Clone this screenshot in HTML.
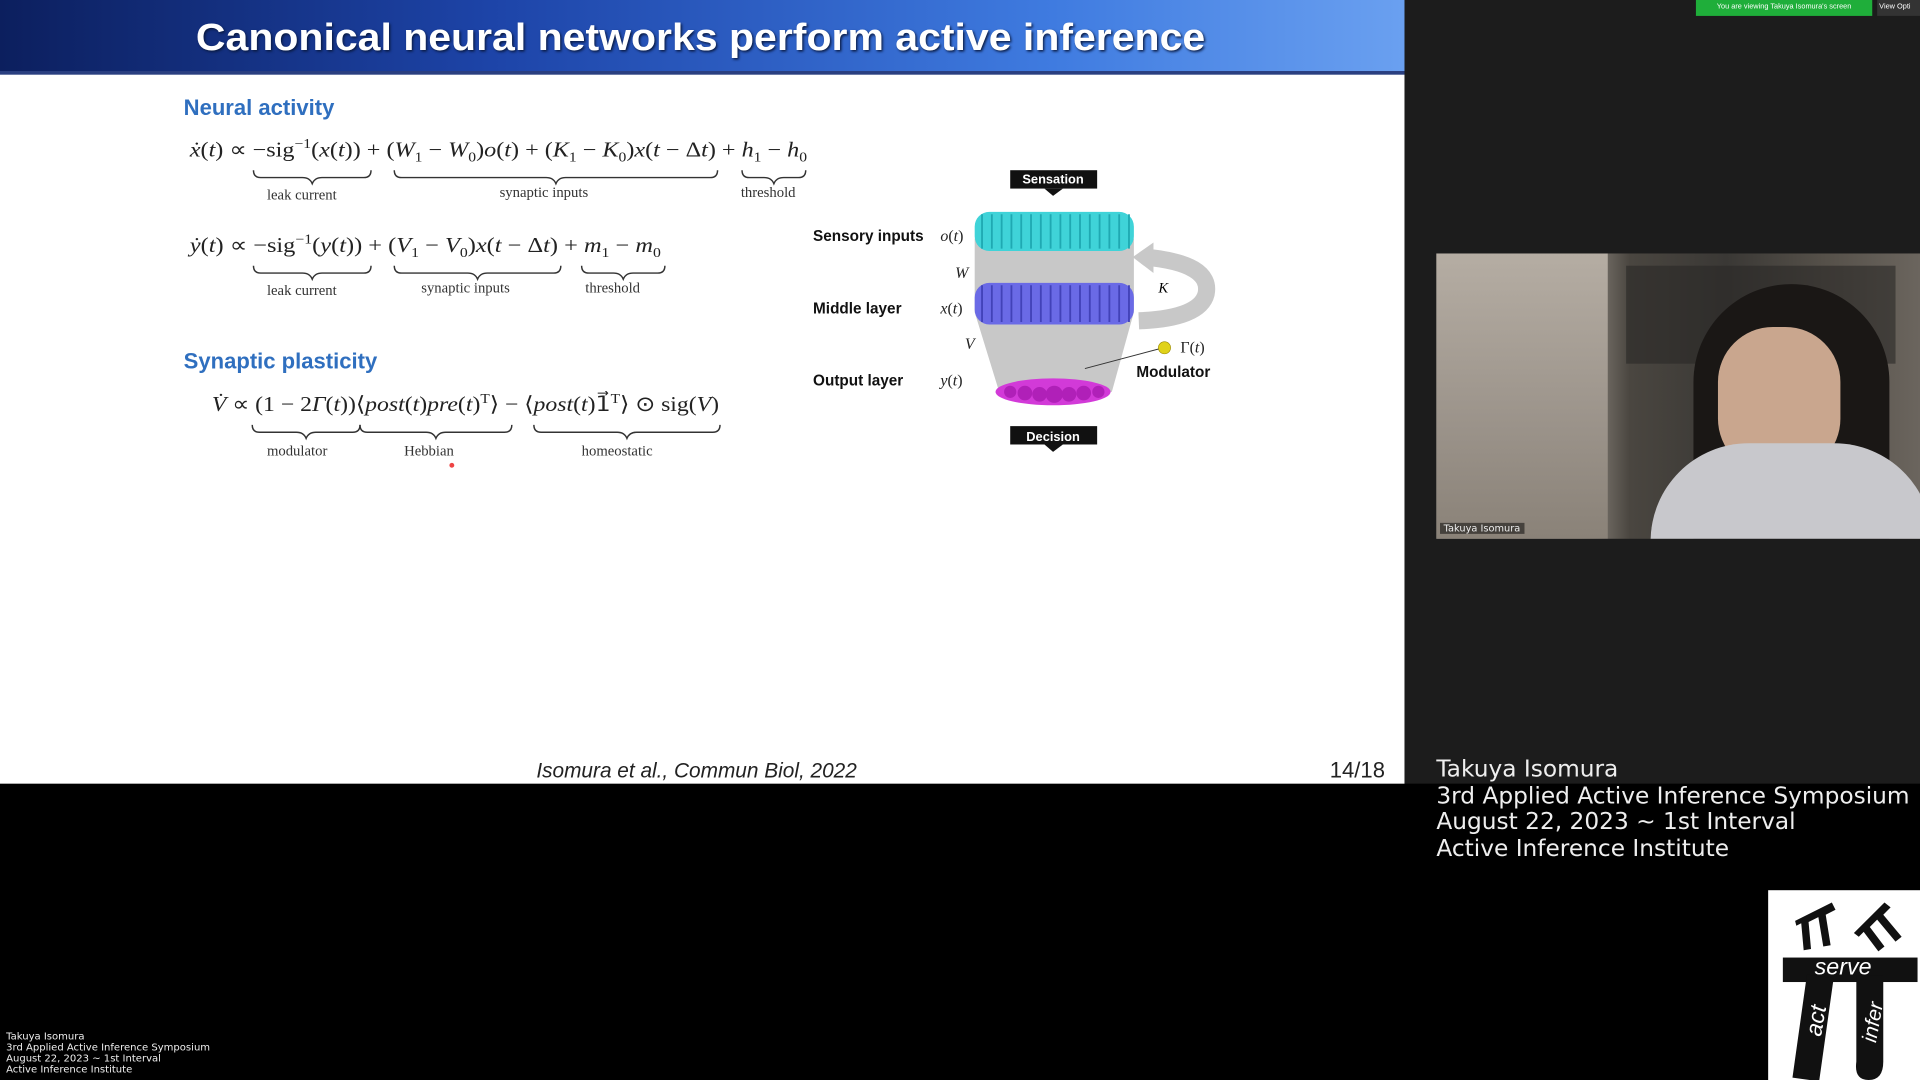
<!DOCTYPE html>
<html><head><meta charset="utf-8"><style>
html,body{margin:0;padding:0;background:#000;width:1920px;height:1080px;overflow:hidden}
#c{position:absolute;left:0;top:0;width:1568px;height:882px;transform:scale(1.22449);transform-origin:0 0;background:#000;font-family:"Liberation Sans",sans-serif}
.a{position:absolute;white-space:nowrap}
.eq{font-family:"Liberation Serif",serif;font-size:17px;color:#222;transform-origin:0 0}
.eq i{font-style:italic}
.lb{font-family:"Liberation Serif",serif;font-size:12px;color:#333}
.h{font-weight:bold;color:#2f6fbf;font-size:18px}
.b{font-weight:bold;font-size:12.5px;color:#111}
.w{color:#eee;font-family:"DejaVu Sans",sans-serif}
</style></head><body><div id="c">
<div class="a" style="left:0;top:0;width:1147px;height:640px;background:#fff"></div>
<div class="a" style="left:0;top:0;width:1147px;height:60px;background:linear-gradient(90deg,#0c1f5e 0%,#1d44a8 35%,#3f7be0 75%,#6aa0f0 100%)"></div>
<div class="a" style="left:0;top:58px;width:1147px;height:3px;background:#2a3f80"></div>
<div class="a" style="left:160px;top:13px;font-size:31px;font-weight:bold;color:#fff;transform:scaleX(1.08);transform-origin:0 0;text-shadow:1px 1px 2px #0a1a40">Canonical neural networks perform active inference</div>
<div class="a" style="left:1147px;top:0;width:421px;height:640px;background:#1c1c1c"></div>
<div class="a" style="left:1385px;top:0;width:144px;height:13px;background:#1fae3a;color:#fff;font-size:6px;line-height:13px;text-align:center">You are viewing Takuya Isomura's screen</div>
<div class="a" style="left:1533px;top:0;width:35px;height:13px;background:#333;color:#fff;font-size:6px;line-height:13px">&nbsp;View Opti</div>

<div class="a h" style="left:150px;top:78px">Neural activity</div>
<div class="a eq" style="left:155px;top:112px;transform:scaleX(1.16)"><i>ẋ</i>(<i>t</i>) ∝ −sig<sup style="font-size:11px">−1</sup>(<i>x</i>(<i>t</i>)) + (<i>W</i><sub style="font-size:11px">1</sub> − <i>W</i><sub style="font-size:11px">0</sub>)<i>o</i>(<i>t</i>) + (<i>K</i><sub style="font-size:11px">1</sub> − <i>K</i><sub style="font-size:11px">0</sub>)<i>x</i>(<i>t</i> − Δ<i>t</i>) + <i>h</i><sub style="font-size:11px">1</sub> − <i>h</i><sub style="font-size:11px">0</sub></div>
<div class="a eq" style="left:155px;top:190px;transform:scaleX(1.17)"><i>ẏ</i>(<i>t</i>) ∝ −sig<sup style="font-size:11px">−1</sup>(<i>y</i>(<i>t</i>)) + (<i>V</i><sub style="font-size:11px">1</sub> − <i>V</i><sub style="font-size:11px">0</sub>)<i>x</i>(<i>t</i> − Δ<i>t</i>) + <i>m</i><sub style="font-size:11px">1</sub> − <i>m</i><sub style="font-size:11px">0</sub></div>
<div class="a h" style="left:150px;top:285px">Synaptic plasticity</div>
<div class="a eq" style="left:173px;top:320px;transform:scaleX(1.14)"><i>V̇</i> ∝ (1 − 2<i>Γ</i>(<i>t</i>))⟨<i>post</i>(<i>t</i>)<i>pre</i>(<i>t</i>)<sup style="font-size:11px">T</sup>⟩ − ⟨<i>post</i>(<i>t</i>)1⃗<sup style="font-size:11px">T</sup>⟩ ⊙ sig(<i>V</i>)</div>

<svg class="a" style="left:0;top:0" width="1147" height="640" fill="none" stroke="#333" stroke-width="1.2">
<path d="M207 139 q0 6 6 6 h34 q6 0 8 5 q2 -5 8 -5 h34 q6 0 6 -6"/>
<path d="M322 139 q0 6 6 6 h118 q6 0 8 5 q2 -5 8 -5 h118 q6 0 6 -6"/>
<path d="M606 139 q0 6 6 6 h12 q6 0 8 5 q2 -5 8 -5 h12 q6 0 6 -6"/>
<path d="M207 217 q0 6 6 6 h34 q6 0 8 5 q2 -5 8 -5 h34 q6 0 6 -6"/>
<path d="M322 217 q0 6 6 6 h54 q6 0 8 5 q2 -5 8 -5 h54 q6 0 6 -6"/>
<path d="M475 217 q0 6 6 6 h20 q6 0 8 5 q2 -5 8 -5 h20 q6 0 6 -6"/>
<path d="M206 347 q0 6 6 6 h30 q6 0 8 5 q2 -5 8 -5 h30 q6 0 6 -6"/>
<path d="M294 347 q0 6 6 6 h48 q6 0 8 5 q2 -5 8 -5 h48 q6 0 6 -6"/>
<path d="M436 347 q0 6 6 6 h62 q6 0 8 5 q2 -5 8 -5 h62 q6 0 6 -6"/>
</svg>
<div class="a lb" style="left:218px;top:152px">leak current</div>
<div class="a lb" style="left:408px;top:150px">synaptic inputs</div>
<div class="a lb" style="left:605px;top:150px">threshold</div>
<div class="a lb" style="left:218px;top:230px">leak current</div>
<div class="a lb" style="left:344px;top:228px">synaptic inputs</div>
<div class="a lb" style="left:478px;top:228px">threshold</div>
<div class="a lb" style="left:218px;top:361px">modulator</div>
<div class="a lb" style="left:330px;top:361px">Hebbian</div>
<div class="a lb" style="left:475px;top:361px">homeostatic</div>
<div class="a" style="left:367px;top:378px;width:4px;height:4px;border-radius:50%;background:#e44"></div>

<svg class="a" style="left:650px;top:135px" width="350" height="240">
<polygon points="146,60 276,60 276,120 258,185 166,185 146,120" fill="#c8c8c8"/>
<path d="M285 75 q55 5 50 30 q-5 20 -55 22" stroke="#c8c8c8" stroke-width="14" fill="none"/>
<polygon points="275,75 292,63 292,88" fill="#c8c8c8"/>
<rect x="175" y="4" width="71" height="15" fill="#111"/>
<polygon points="203,19 218,19 210,25" fill="#111"/>
<text x="210" y="15" fill="#fff" font-size="10.5" font-weight="bold" text-anchor="middle" font-family="Liberation Sans">Sensation</text>
<rect x="175" y="213" width="71" height="15" fill="#111"/>
<polygon points="203,228 218,228 210,234" fill="#111"/>
<text x="210" y="225" fill="#fff" font-size="10.5" font-weight="bold" text-anchor="middle" font-family="Liberation Sans">Decision</text>
<rect x="146" y="38" width="130" height="32" rx="12" fill="#3fd3d8"/>
<g stroke="#1fa9b2" stroke-width="1.5">
<path d="M152 40v28M160 40v28M168 40v28M176 40v28M184 40v28M192 40v28M200 40v28M208 40v28M216 40v28M224 40v28M232 40v28M240 40v28M248 40v28M256 40v28M264 40v28M272 40v28"/></g>
<rect x="146" y="96" width="130" height="34" rx="12" fill="#6a6ae6"/>
<g stroke="#4242b8" stroke-width="1.5">
<path d="M152 98v30M160 98v30M168 98v30M176 98v30M184 98v30M192 98v30M200 98v30M208 98v30M216 98v30M224 98v30M232 98v30M240 98v30M248 98v30M256 98v30M264 98v30M272 98v30"/></g>
<ellipse cx="210" cy="185" rx="47" ry="11" fill="#d23ad8"/>
<g fill="#b020b8"><circle cx="175" cy="185" r="5"/><circle cx="187" cy="186" r="6"/><circle cx="199" cy="187" r="6"/><circle cx="211" cy="187" r="7"/><circle cx="223" cy="187" r="6"/><circle cx="235" cy="186" r="6"/><circle cx="247" cy="185" r="5"/></g>
<line x1="236" y1="166" x2="300" y2="149" stroke="#333" stroke-width="0.8"/>
<circle cx="301" cy="149" r="5" fill="#e0d21a" stroke="#998800" stroke-width="0.5"/>
<text x="296" y="104" font-size="12" font-style="italic" font-family="Liberation Serif">K</text>
</svg>
<div class="a b" style="left:664px;top:186px">Sensory inputs</div>
<div class="a b" style="left:664px;top:245px">Middle layer</div>
<div class="a b" style="left:664px;top:304px">Output layer</div>
<div class="a b" style="left:928px;top:297px">Modulator</div>
<div class="a eq" style="left:768px;top:185px;font-size:13px"><i>o</i>(<i>t</i>)</div>
<div class="a eq" style="left:780px;top:215px;font-size:13px"><i>W</i></div>
<div class="a eq" style="left:768px;top:244px;font-size:13px"><i>x</i>(<i>t</i>)</div>
<div class="a eq" style="left:788px;top:273px;font-size:13px"><i>V</i></div>
<div class="a eq" style="left:768px;top:303px;font-size:13px"><i>y</i>(<i>t</i>)</div>
<div class="a eq" style="left:964px;top:276px;font-size:13px">Γ(<i>t</i>)</div>

<div class="a" style="left:438px;top:620px;font-size:17px;font-style:italic;color:#222">Isomura et al., Commun Biol, 2022</div>
<div class="a" style="left:1086px;top:619px;font-size:18px;color:#222">14/18</div>

<div class="a" style="left:1173px;top:207px;width:395px;height:233px;overflow:hidden;background:linear-gradient(90deg,#a09a92 0%,#8f8880 30%,#4a4640 40%,#3a3835 60%,#555049 80%,#6b655e 100%)">
<div class="a" style="left:0;top:0;width:140px;height:233px;background:linear-gradient(180deg,#b5ada3,#9b938a 60%,#8a8278)"></div>
<div class="a" style="left:155px;top:10px;width:220px;height:80px;background:#2a2826;opacity:.6"></div>
<div class="a" style="left:210px;top:25px;width:160px;height:240px;border-radius:80px 80px 0 0;background:#1a1715"></div>
<div class="a" style="left:230px;top:60px;width:100px;height:120px;border-radius:45px;background:#c9a68e"></div>
<div class="a" style="left:175px;top:155px;width:230px;height:120px;border-radius:80px 80px 0 0;background:#c8c8cc"></div>
<div class="a w" style="left:3px;top:220px;font-size:8px;background:rgba(0,0,0,.5);padding:0 3px">Takuya Isomura</div>
</div>

<div class="a w" style="left:1173px;top:618px;font-size:19px;line-height:21.5px">Takuya Isomura<br>3rd Applied Active Inference Symposium<br>August 22, 2023 ~ 1st Interval<br>Active Inference Institute</div>
<div class="a w" style="left:5px;top:842px;font-size:8.2px;line-height:9px">Takuya Isomura<br>3rd Applied Active Inference Symposium<br>August 22, 2023 ~ 1st Interval<br>Active Inference Institute</div>

<div class="a" style="left:1444px;top:727px;width:124px;height:155px;background:#fff;overflow:hidden">
<svg width="124" height="155">
<g fill="#111">
<rect x="12" y="55" width="110" height="20"/>
<rect x="26" y="70" width="22" height="85" transform="rotate(8 37 110)"/>
<path d="M72 70 h22 v70 q0 15 -12 15 q-12 0 -10 -15z"/>
<path d="M22 25 l30 -15 l3 6 l-8 4 l4 25 l-6 1 l-4 -24 l-8 4 l2 22 l-6 1 l-2 -22 l-4 2z"/>
<path d="M70 35 l25 -25 l5 4 l-6 6 l15 18 l-5 4 l-15 -18 l-6 6 l12 16 l-5 4 l-12 -16 l-4 4z"/>
</g>
<text x="38" y="69" fill="#fff" font-size="19" font-style="italic" font-family="Liberation Sans">serve</text>
<text x="0" y="0" fill="#fff" font-size="19" font-style="italic" font-family="Liberation Sans" transform="translate(43 120) rotate(-80)">act</text>
<text x="0" y="0" fill="#fff" font-size="17" font-style="italic" font-family="Liberation Sans" transform="translate(88 125) rotate(-80)">infer</text>
</svg></div>
</div></body></html>
